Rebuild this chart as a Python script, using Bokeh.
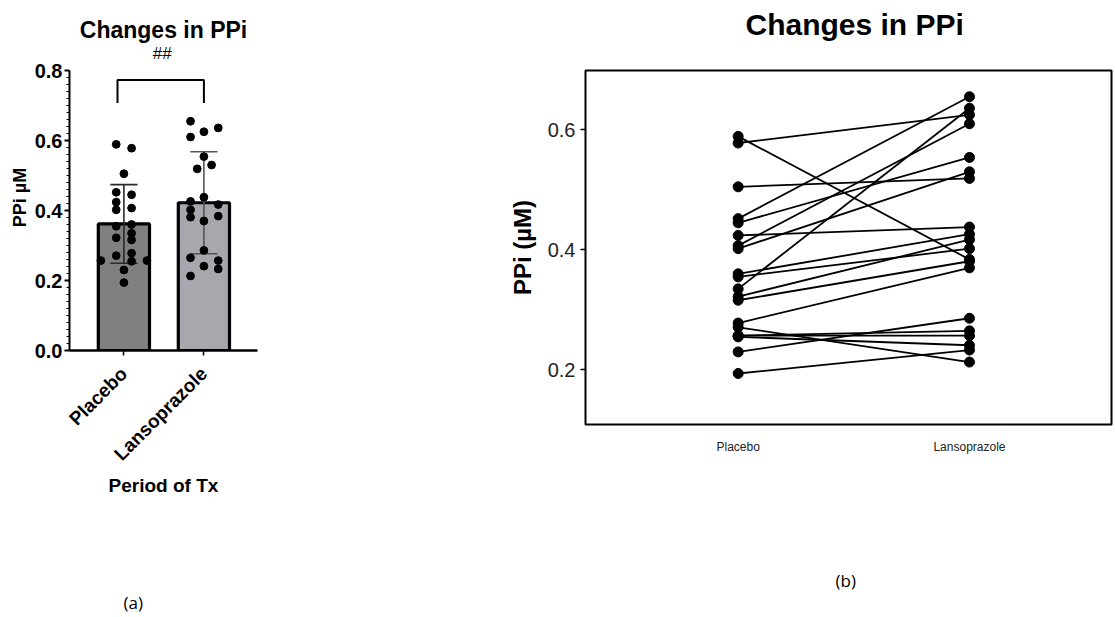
import math
import numpy as np
from bokeh.plotting import figure
from bokeh.models import (Range1d, FixedTicker, SingleIntervalTicker,
                          NumeralTickFormatter, Title)
from bokeh.core.properties import value
from bokeh.layouts import row
from bokeh.embed import file_html
from bokeh.resources import INLINE

# ---------------- data ----------------
groups = ["Placebo", "Lansoprazole"]
# paired values per subject (PPi, µM)
placebo = [0.589, 0.578, 0.505, 0.452, 0.445, 0.424, 0.407, 0.402, 0.360, 0.355,
           0.335, 0.322, 0.316, 0.278, 0.271, 0.257, 0.257, 0.255, 0.230, 0.194]
lansoprazole = [0.384, 0.625, 0.519, 0.655, 0.554, 0.438, 0.610, 0.530, 0.426, 0.402,
                0.636, 0.417, 0.381, 0.370, 0.213, 0.265, 0.257, 0.241, 0.286, 0.233]
left_ticks = [0.0, 0.2, 0.4, 0.6, 0.8]
right_ticks = [0.2, 0.4, 0.6]
title_text = "Changes in PPi"
sig_text = "##"

# horizontal spread of the dots in the bar chart (in dot widths)
placebo_spread = [-1, 1, 0, -1, 1, -1, 1, -1, 1, -1, 1, -1, 1, 1, -1, -3, 3, 1, 0, 0]
lanso_spread = [1.87, 0, -0.87, -1.74, 0, 0, -1.74, 1, -1.74, -1.74,
                1.87, 1.87, -1.74, 0, -1.74, -1.74, 1.87, 0, 0, 1.87]

FONT = "Liberation Sans"
H = 617


def spacer(px):
    # empty title used only to reserve vertical room in a side panel
    return Title(text=" ", text_font_size="1px", standoff=px)


# ---------------- left panel (a) ----------------
pos = [1, 2]
means = [float(np.mean(placebo)), float(np.mean(lansoprazole))]
sds = [float(np.std(placebo, ddof=1)), float(np.std(lansoprazole, ddof=1))]

p1 = figure(width=448, height=H, x_range=Range1d(0.32, 2.67), y_range=Range1d(0, 0.8743),
            output_backend="svg", toolbar_location=None,
            min_border_left=69, min_border_right=191, min_border_top=44, min_border_bottom=267)
p1.frame_align = False
p1.outline_line_color = None
p1.xgrid.visible = False
p1.ygrid.visible = False

p1.vbar(x=pos, top=means, bottom=0, width=0.64,
        fill_color=["#808080", "#a7a7ae"], line_color="black", line_width=3.2)

# error bars (mean ± SD)
cap = 0.17
err_cols = ["#2a2a2a", "#555555"]
for i in range(2):
    lo, hi = means[i] - sds[i], means[i] + sds[i]
    p1.segment(x0=[pos[i]], y0=[lo], x1=[pos[i]], y1=[hi], line_color=err_cols[i], line_width=1.6)
    p1.segment(x0=[pos[i] - cap, pos[i] - cap], y0=[lo, hi], x1=[pos[i] + cap, pos[i] + cap],
               y1=[lo, hi], line_color=err_cols[i], line_width=1.6)

dot = 0.096
xs_a = [1 + dot * s for s in placebo_spread] + [2 + dot * s for s in lanso_spread]
ys_a = placebo + lansoprazole
p1.scatter(x=xs_a, y=ys_a, size=7.8, fill_color="black", line_color="black")

# significance bracket and marker
p1.line(x=[0.92, 0.92, 2.0, 2.0], y=[0.707, 0.773, 0.773, 0.707], line_color="black", line_width=2)
p1.text(x=[(pos[0] + pos[1]) / 2 - 0.02], y=[0.849], text=[sig_text], text_font=value(FONT),
        text_font_size="17px", text_align="center", text_baseline="middle", text_color="black")

yax = p1.yaxis[0]
yax.ticker = SingleIntervalTicker(interval=0.2, num_minor_ticks=10)
yax.formatter = NumeralTickFormatter(format="0.0")
yax.bounds = (left_ticks[0], left_ticks[-1])
yax.axis_line_width = 2
yax.major_tick_in = 0
yax.major_tick_out = 5
yax.major_tick_line_width = 2
yax.minor_tick_in = 0
yax.minor_tick_out = 3
yax.major_label_standoff = 2
yax.major_label_text_font = FONT
yax.major_label_text_font_style = "bold"
yax.major_label_text_font_size = "20px"
yax.major_label_text_color = "black"
yax.axis_label = "PPi µM"
yax.axis_label_text_font = FONT
yax.axis_label_text_font_style = "bold"
yax.axis_label_text_font_size = "18px"
yax.axis_label_text_color = "black"
yax.axis_label_standoff = 2

xax = p1.xaxis[0]
xax.ticker = FixedTicker(ticks=pos)
xax.major_label_overrides = {1: groups[0], 2: groups[1]}
xax.major_label_orientation = math.pi / 4
xax.axis_line_width = 2.5
xax.major_tick_in = 0
xax.major_tick_out = 5
xax.major_tick_line_width = 1.5
xax.minor_tick_line_color = None
xax.major_label_standoff = 15
xax.major_label_text_font = FONT
xax.major_label_text_font_style = "bold"
xax.major_label_text_font_size = "19px"
xax.major_label_text_color = "black"
xax.axis_label = "Period of Tx"
xax.axis_label_text_font = FONT
xax.axis_label_text_font_style = "bold"
xax.axis_label_text_font_size = "19px"
xax.axis_label_text_color = "black"
xax.axis_label_standoff = 0

p1.title = Title(text=title_text, align="center", text_font=FONT, text_font_style="bold",
                 text_font_size="23px", text_color="black", standoff=4)
p1.add_layout(spacer(87), "below")
p1.add_layout(Title(text="(a)", align="left", offset=54, text_font="Open Sans",
                    text_font_style="normal", text_font_size="17px", text_color="black",
                    standoff=0), "below")

# ---------------- right panel (b) ----------------
p2 = figure(width=665, height=H, x_range=Range1d(0.340, 2.614), y_range=Range1d(0.109, 0.6988),
            output_backend="svg", toolbar_location=None,
            min_border_left=137, min_border_right=2, min_border_top=70, min_border_bottom=193)
p2.frame_align = False
p2.xgrid.visible = False
p2.ygrid.visible = False
p2.outline_line_color = "black"
p2.outline_line_width = 2
p2.outline_line_alpha = 1.0

line_xs = [[1, 2] for _ in placebo]
line_ys = [[a, b] for a, b in zip(placebo, lansoprazole)]
p2.multi_line(xs=line_xs, ys=line_ys, line_color="black", line_width=1.8)
p2.scatter(x=[1] * len(placebo), y=placebo, size=10, fill_color="black", line_color="black")
p2.scatter(x=[2] * len(lansoprazole), y=lansoprazole, size=10, fill_color="black", line_color="black")

y2 = p2.yaxis[0]
y2.ticker = FixedTicker(ticks=right_ticks)
y2.formatter = NumeralTickFormatter(format="0.0")
y2.axis_line_color = None
y2.major_tick_in = 0
y2.major_tick_out = 5
y2.major_tick_line_width = 1.5
y2.minor_tick_line_color = None
y2.major_label_standoff = 5
y2.major_label_text_font = FONT
y2.major_label_text_font_size = "20px"
y2.major_label_text_color = "#222222"
y2.axis_label = "PPi (µM)"
y2.axis_label_text_font = FONT
y2.axis_label_text_font_style = "bold"
y2.axis_label_text_font_size = "24px"
y2.axis_label_text_color = "black"
y2.axis_label_standoff = 9

x2 = p2.xaxis[0]
x2.ticker = FixedTicker(ticks=pos)
x2.major_label_overrides = {1: groups[0], 2: groups[1]}
x2.axis_line_color = None
x2.major_tick_line_color = None
x2.minor_tick_line_color = None
x2.major_tick_out = 0
x2.major_tick_in = 0
x2.major_label_standoff = 15
x2.major_label_text_font = FONT
x2.major_label_text_font_size = "12px"
x2.major_label_text_color = "#222222"

p2.title = Title(text=title_text, align="left", offset=160, text_font=FONT,
                 text_font_style="bold", text_font_size="30px", text_color="black", standoff=0)
p2.add_layout(spacer(27), "above")
p2.add_layout(spacer(107), "below")
p2.add_layout(Title(text="(b)", align="left", offset=250, text_font="Open Sans",
                    text_font_style="normal", text_font_size="17px", text_color="black",
                    standoff=0), "below")

layout = row(p1, p2, spacing=0)
open("out.html", "w").write(file_html(layout, INLINE))
